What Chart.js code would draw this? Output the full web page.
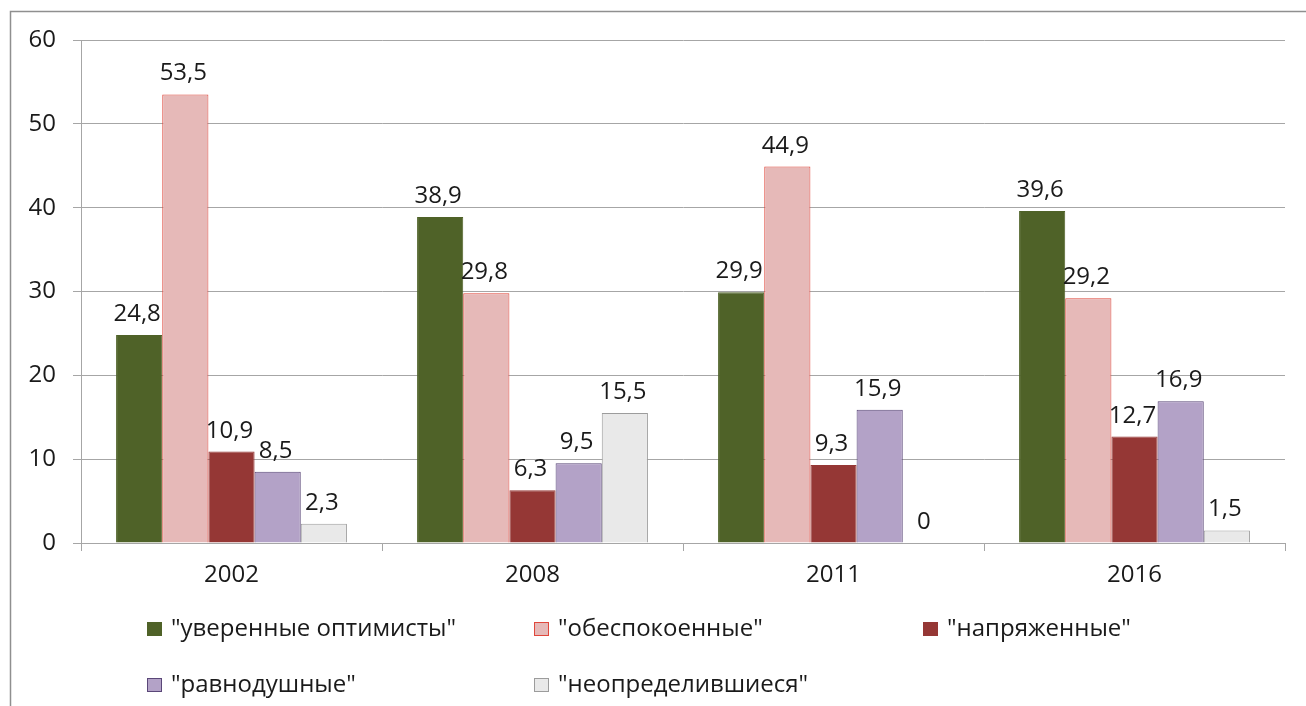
<!DOCTYPE html>
<html>
<head>
<meta charset="utf-8">
<title>Типы по отношению к будущему</title>
<script src="https://cdn.jsdelivr.net/npm/chart.js@4/dist/chart.umd.min.js"></script>
<style>
  html, body { margin: 0; padding: 0; background: #fff; }
  canvas { display: block; }
</style>
</head>
<body>
<canvas id="surveyChart" width="1306" height="706"></canvas>
<script>
// years on the x axis
const years = ['2002', '2008', '2011', '2016'];

// series names (legend)
const seriesNames = [
    '"уверенные оптимисты"',
    '"обеспокоенные"',
    '"напряженные"',
    '"равнодушные"',
    '"неопределившиеся"'
];

// values, % per year
const optimists = [24.8, 38.9, 29.9, 39.6];
const worried = [53.5, 29.8, 44.9, 29.2];
const tense = [10.9, 6.3, 9.3, 12.7];
const indifferent = [8.5, 9.5, 15.9, 16.9];
const undecided = [2.3, 15.5, 0, 1.5];

// y axis ticks
const yTicks = [0, 10, 20, 30, 40, 50, 60];

const FONT = '"Open Sans", "DejaVu Sans", sans-serif';
const TEXT = '#1a1a1a';
const GRID = '#a6a6a6';

const seriesStyle = [
    { bg: '#4f6228', border: '#4f6228' },
    { bg: '#e6b9b8', border: '#e0473c' },
    { bg: '#953735', border: '#953735' },
    { bg: '#b3a2c7', border: '#5a4778' },
    { bg: '#e9e9e9', border: '#9c9c9c' }
];

const allValues = [optimists, worried, tense, indifferent, undecided];

// value labels above every bar, decimal comma
const barLabels = {
    id: 'barLabels',
    afterDatasetsDraw(chart) {
        const ctx = chart.ctx;
        ctx.save();
        ctx.font = '24px ' + FONT;
        ctx.fillStyle = TEXT;
        ctx.textAlign = 'center';
        ctx.textBaseline = 'alphabetic';
        chart.data.datasets.forEach((ds, i) => {
            const meta = chart.getDatasetMeta(i);
            meta.data.forEach((bar, j) => {
                const txt = String(ds.data[j]).replace('.', ',');
                ctx.fillText(txt, bar.x - 2, bar.y - 14);
            });
        });
        ctx.restore();
    }
};

// legend in two rows, three columns (like the Excel one)
const gridLegend = {
    id: 'gridLegend',
    afterDraw(chart) {
        const ctx = chart.ctx;
        const cols = [147, 534, 923];
        const rows = [629, 685];
        ctx.save();
        ctx.font = '24px ' + FONT;
        ctx.textBaseline = 'middle';
        ctx.textAlign = 'left';
        chart.data.datasets.forEach((ds, i) => {
            const x = cols[i % 3];
            const y = rows[Math.floor(i / 3)];
            ctx.fillStyle = ds.backgroundColor;
            ctx.fillRect(x, y - 7, 15, 14);
            ctx.strokeStyle = ds.borderColor;
            ctx.lineWidth = 1;
            ctx.strokeRect(x + 0.5, y - 6.5, 14, 13);
            ctx.fillStyle = TEXT;
            ctx.fillText(ds.label, x + 24, y);
        });
        ctx.restore();
    }
};

// white background and the outer frame
const frame = {
    id: 'frame',
    beforeDraw(chart) {
        const ctx = chart.ctx;
        ctx.save();
        ctx.fillStyle = '#fff';
        ctx.fillRect(0, 0, chart.width, chart.height);
        ctx.strokeStyle = '#8f8f8f';
        ctx.lineWidth = 1.5;
        ctx.beginPath();
        ctx.moveTo(10.5, chart.height);
        ctx.lineTo(10.5, 11.5);
        ctx.lineTo(chart.width, 11.5);
        ctx.stroke();
        ctx.restore();
    }
};

const surveyData = {
    labels: years,
    datasets: seriesNames.map((name, i) => ({
        label: name,
        data: allValues[i],
        backgroundColor: seriesStyle[i].bg,
        borderColor: seriesStyle[i].border,
        borderWidth: 1,
        categoryPercentage: 0.767,
        barPercentage: 1
    }))
};

const surveyOptions = {
    responsive: false,
    animation: false,
    layout: { padding: { left: 0, top: 40, right: 21, bottom: 0 } },
    plugins: {
        legend: { display: false },
        tooltip: { enabled: false }
    },
    scales: {
        x: {
            offset: true,
            grid: {
                offset: true,
                drawOnChartArea: false,
                drawTicks: true,
                tickLength: 8,
                color: GRID
            },
            border: { color: GRID, width: 1 },
            ticks: {
                color: TEXT,
                font: { family: FONT, size: 24 },
                padding: 10,
                maxRotation: 0
            },
            afterFit(scale) { scale.height = 163; }
        },
        y: {
            min: 0,
            max: 60,
            afterBuildTicks(scale) {
                scale.ticks = yTicks.map(v => ({ value: v }));
            },
            grid: {
                color: GRID,
                tickLength: 8
            },
            border: { color: GRID, width: 1 },
            ticks: {
                color: TEXT,
                font: { family: FONT, size: 24 },
                padding: 17
            },
            afterFit(scale) { scale.width = 81; }
        }
    }
};

const surveyCanvas = document.getElementById('surveyChart');

const surveyChart = new Chart(surveyCanvas, {
    type: 'bar',
    data: surveyData,
    options: surveyOptions,
    plugins: [frame, barLabels, gridLegend]
});
</script>
</body>
</html>
